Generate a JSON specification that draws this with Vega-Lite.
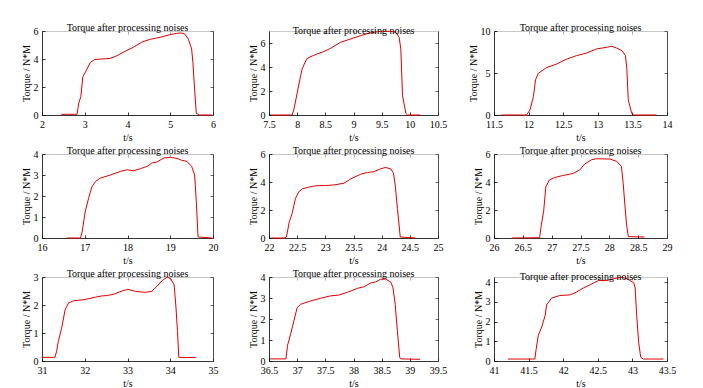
{
"$schema": "https://vega.github.io/schema/vega-lite/v6.json",
"padding": {"left": 21, "top": 23, "right": 5, "bottom": 5},
"background": "white",
"data": {"values": [
{"p":1,"t":2.45,"v":0.05},{"p":1,"t":2.82,"v":0.05},{"p":1,"t":2.86,"v":0.85},{"p":1,"t":2.91,"v":1.33},{"p":1,"t":2.955,"v":2.73},{"p":1,"t":3.03,"v":3.15},{"p":1,"t":3.13,"v":3.75},{"p":1,"t":3.24,"v":3.97},{"p":1,"t":3.36,"v":3.99},{"p":1,"t":3.59,"v":4.04},{"p":1,"t":3.75,"v":4.23},{"p":1,"t":3.94,"v":4.55},{"p":1,"t":4.14,"v":4.84},{"p":1,"t":4.33,"v":5.2},{"p":1,"t":4.52,"v":5.4},{"p":1,"t":4.68,"v":5.5},{"p":1,"t":4.83,"v":5.6},{"p":1,"t":4.99,"v":5.74},{"p":1,"t":5.15,"v":5.83},{"p":1,"t":5.26,"v":5.86},{"p":1,"t":5.34,"v":5.78},{"p":1,"t":5.42,"v":5.44},{"p":1,"t":5.5,"v":4.72},{"p":1,"t":5.53,"v":3.75},{"p":1,"t":5.57,"v":1.81},{"p":1,"t":5.61,"v":0.12},{"p":1,"t":5.69,"v":0.0},{"p":1,"t":5.98,"v":0.0},
{"p":2,"t":7.52,"v":0},{"p":2,"t":7.91,"v":0},{"p":2,"t":7.94,"v":0.42},{"p":2,"t":8.0,"v":1.83},{"p":2,"t":8.06,"v":3.24},{"p":2,"t":8.09,"v":3.86},{"p":2,"t":8.17,"v":4.7},{"p":2,"t":8.3,"v":4.99},{"p":2,"t":8.48,"v":5.3},{"p":2,"t":8.59,"v":5.55},{"p":2,"t":8.77,"v":6.06},{"p":2,"t":8.95,"v":6.34},{"p":2,"t":9.13,"v":6.62},{"p":2,"t":9.3,"v":6.85},{"p":2,"t":9.48,"v":6.97},{"p":2,"t":9.66,"v":6.97},{"p":2,"t":9.75,"v":6.9},{"p":2,"t":9.81,"v":6.48},{"p":2,"t":9.84,"v":5.49},{"p":2,"t":9.87,"v":1.63},{"p":2,"t":9.93,"v":0.14},{"p":2,"t":9.96,"v":0},{"p":2,"t":10.19,"v":0},
{"p":3,"t":11.6,"v":0},{"p":3,"t":11.97,"v":0},{"p":3,"t":12.02,"v":0.6},{"p":3,"t":12.07,"v":2.2},{"p":3,"t":12.1,"v":4.2},{"p":3,"t":12.14,"v":4.96},{"p":3,"t":12.26,"v":5.65},{"p":3,"t":12.4,"v":6.05},{"p":3,"t":12.55,"v":6.65},{"p":3,"t":12.69,"v":7.06},{"p":3,"t":12.84,"v":7.38},{"p":3,"t":12.98,"v":7.86},{"p":3,"t":13.13,"v":8.06},{"p":3,"t":13.2,"v":8.19},{"p":3,"t":13.27,"v":7.98},{"p":3,"t":13.35,"v":7.66},{"p":3,"t":13.4,"v":7.06},{"p":3,"t":13.42,"v":5.44},{"p":3,"t":13.44,"v":1.81},{"p":3,"t":13.49,"v":0.2},{"p":3,"t":13.52,"v":0},{"p":3,"t":13.85,"v":0},
{"p":4,"t":16.58,"v":0},{"p":4,"t":16.9,"v":0},{"p":4,"t":16.94,"v":0.29},{"p":4,"t":17.01,"v":1.25},{"p":4,"t":17.09,"v":1.89},{"p":4,"t":17.17,"v":2.45},{"p":4,"t":17.25,"v":2.69},{"p":4,"t":17.36,"v":2.85},{"p":4,"t":17.6,"v":3.0},{"p":4,"t":17.83,"v":3.17},{"p":4,"t":17.99,"v":3.25},{"p":4,"t":18.14,"v":3.2},{"p":4,"t":18.3,"v":3.3},{"p":4,"t":18.46,"v":3.41},{"p":4,"t":18.57,"v":3.57},{"p":4,"t":18.69,"v":3.62},{"p":4,"t":18.85,"v":3.81},{"p":4,"t":19.0,"v":3.84},{"p":4,"t":19.16,"v":3.79},{"p":4,"t":19.27,"v":3.7},{"p":4,"t":19.39,"v":3.65},{"p":4,"t":19.5,"v":3.41},{"p":4,"t":19.57,"v":3.0},{"p":4,"t":19.61,"v":1.73},{"p":4,"t":19.65,"v":0.05},{"p":4,"t":19.98,"v":0},
{"p":5,"t":22.03,"v":0},{"p":5,"t":22.27,"v":0},{"p":5,"t":22.31,"v":0.07},{"p":5,"t":22.36,"v":1.15},{"p":5,"t":22.41,"v":1.75},{"p":5,"t":22.47,"v":2.83},{"p":5,"t":22.53,"v":3.31},{"p":5,"t":22.59,"v":3.5},{"p":5,"t":22.74,"v":3.67},{"p":5,"t":22.86,"v":3.74},{"p":5,"t":22.98,"v":3.74},{"p":5,"t":23.15,"v":3.79},{"p":5,"t":23.33,"v":3.91},{"p":5,"t":23.45,"v":4.22},{"p":5,"t":23.63,"v":4.56},{"p":5,"t":23.75,"v":4.68},{"p":5,"t":23.86,"v":4.73},{"p":5,"t":23.98,"v":4.94},{"p":5,"t":24.07,"v":5.04},{"p":5,"t":24.16,"v":4.94},{"p":5,"t":24.21,"v":4.63},{"p":5,"t":24.24,"v":3.79},{"p":5,"t":24.28,"v":2.11},{"p":5,"t":24.33,"v":0.07},{"p":5,"t":24.6,"v":0},
{"p":6,"t":26.31,"v":0},{"p":6,"t":26.79,"v":0.02},{"p":6,"t":26.82,"v":0.91},{"p":6,"t":26.86,"v":1.87},{"p":6,"t":26.9,"v":3.67},{"p":6,"t":26.96,"v":4.15},{"p":6,"t":27.05,"v":4.32},{"p":6,"t":27.19,"v":4.46},{"p":6,"t":27.37,"v":4.61},{"p":6,"t":27.49,"v":4.87},{"p":6,"t":27.57,"v":5.28},{"p":6,"t":27.69,"v":5.59},{"p":6,"t":27.78,"v":5.66},{"p":6,"t":28.01,"v":5.64},{"p":6,"t":28.13,"v":5.47},{"p":6,"t":28.21,"v":5.11},{"p":6,"t":28.24,"v":3.91},{"p":6,"t":28.27,"v":2.35},{"p":6,"t":28.3,"v":0.91},{"p":6,"t":28.33,"v":0.1},{"p":6,"t":28.61,"v":0.07},
{"p":7,"t":31.0,"v":0.13},{"p":7,"t":31.3,"v":0.13},{"p":7,"t":31.34,"v":0.33},{"p":7,"t":31.38,"v":0.69},{"p":7,"t":31.46,"v":1.17},{"p":7,"t":31.54,"v":1.83},{"p":7,"t":31.62,"v":2.07},{"p":7,"t":31.74,"v":2.15},{"p":7,"t":31.98,"v":2.19},{"p":7,"t":32.22,"v":2.27},{"p":7,"t":32.38,"v":2.32},{"p":7,"t":32.53,"v":2.34},{"p":7,"t":32.69,"v":2.39},{"p":7,"t":32.85,"v":2.49},{"p":7,"t":33.01,"v":2.56},{"p":7,"t":33.17,"v":2.49},{"p":7,"t":33.41,"v":2.45},{"p":7,"t":33.57,"v":2.49},{"p":7,"t":33.69,"v":2.67},{"p":7,"t":33.81,"v":2.87},{"p":7,"t":33.93,"v":3.0},{"p":7,"t":34.01,"v":2.94},{"p":7,"t":34.09,"v":2.72},{"p":7,"t":34.13,"v":2.0},{"p":7,"t":34.17,"v":1.05},{"p":7,"t":34.2,"v":0.13},{"p":7,"t":34.6,"v":0.12},
{"p":8,"t":36.52,"v":0.1},{"p":8,"t":36.8,"v":0.1},{"p":8,"t":36.83,"v":0.75},{"p":8,"t":36.88,"v":1.24},{"p":8,"t":36.94,"v":1.89},{"p":8,"t":37.0,"v":2.54},{"p":8,"t":37.06,"v":2.7},{"p":8,"t":37.24,"v":2.86},{"p":8,"t":37.42,"v":2.99},{"p":8,"t":37.59,"v":3.1},{"p":8,"t":37.74,"v":3.14},{"p":8,"t":37.89,"v":3.27},{"p":8,"t":38.07,"v":3.46},{"p":8,"t":38.19,"v":3.54},{"p":8,"t":38.3,"v":3.71},{"p":8,"t":38.39,"v":3.76},{"p":8,"t":38.48,"v":3.89},{"p":8,"t":38.57,"v":3.9},{"p":8,"t":38.66,"v":3.76},{"p":8,"t":38.7,"v":3.51},{"p":8,"t":38.74,"v":2.7},{"p":8,"t":38.78,"v":1.4},{"p":8,"t":38.82,"v":0.18},{"p":8,"t":38.84,"v":0.1},{"p":8,"t":39.18,"v":0.08},
{"p":9,"t":41.2,"v":0.1},{"p":9,"t":41.59,"v":0.1},{"p":9,"t":41.61,"v":0.62},{"p":9,"t":41.64,"v":1.3},{"p":9,"t":41.69,"v":1.73},{"p":9,"t":41.74,"v":2.33},{"p":9,"t":41.76,"v":2.85},{"p":9,"t":41.83,"v":3.19},{"p":9,"t":41.95,"v":3.33},{"p":9,"t":42.1,"v":3.36},{"p":9,"t":42.19,"v":3.5},{"p":9,"t":42.29,"v":3.71},{"p":9,"t":42.39,"v":3.88},{"p":9,"t":42.51,"v":4.09},{"p":9,"t":42.63,"v":4.09},{"p":9,"t":42.73,"v":4.19},{"p":9,"t":42.85,"v":4.26},{"p":9,"t":42.94,"v":4.15},{"p":9,"t":43.02,"v":3.97},{"p":9,"t":43.04,"v":3.71},{"p":9,"t":43.06,"v":2.42},{"p":9,"t":43.09,"v":0.96},{"p":9,"t":43.12,"v":0.19},{"p":9,"t":43.16,"v":0.1},{"p":9,"t":43.45,"v":0.1}
]},
"columns": 3,
"spacing": {"row": 39, "column": 56},
"bounds": "flush",
"concat": [
{"title": "Torque after processing noises", "width": 171, "height": 84, "transform": [{"filter": "datum.p == 1"}], "resolve": {"axis": {"x": "independent", "y": "independent"}},
 "layer": [
 {"mark": "line", "encoding": {"x": {"field": "t", "type": "quantitative", "scale": {"domain": [2, 6], "nice": false}, "axis": {"values": [2,3,4,5,6], "title": "t/s"}},
  "y": {"field": "v", "type": "quantitative", "scale": {"domain": [0, 6], "nice": false}, "axis": {"values": [0,2,4,6], "title": "Torque / N*M"}}}},
 {"mark": {"type": "line", "opacity": 0}, "encoding": {"x": {"field": "t", "type": "quantitative", "axis": {"orient": "top", "values": [2,3,4,5,6], "title": null}},
  "y": {"field": "v", "type": "quantitative", "axis": {"orient": "right", "values": [0,2,4,6], "title": null}}}}]},
{"title": "Torque after processing noises", "width": 169, "height": 84, "transform": [{"filter": "datum.p == 2"}], "resolve": {"axis": {"x": "independent", "y": "independent"}},
 "layer": [
 {"mark": "line", "encoding": {"x": {"field": "t", "type": "quantitative", "scale": {"domain": [7.5, 10.5], "nice": false}, "axis": {"values": [7.5,8,8.5,9,9.5,10,10.5], "title": "t/s"}},
  "y": {"field": "v", "type": "quantitative", "scale": {"domain": [0, 7], "nice": false}, "axis": {"values": [0,2,4,6], "title": "Torque / N*M"}}}},
 {"mark": {"type": "line", "opacity": 0}, "encoding": {"x": {"field": "t", "type": "quantitative", "axis": {"orient": "top", "values": [7.5,8,8.5,9,9.5,10,10.5], "title": null}},
  "y": {"field": "v", "type": "quantitative", "axis": {"orient": "right", "values": [0,2,4,6], "title": null}}}}]},
{"title": "Torque after processing noises", "width": 173, "height": 84, "transform": [{"filter": "datum.p == 3"}], "resolve": {"axis": {"x": "independent", "y": "independent"}},
 "layer": [
 {"mark": "line", "encoding": {"x": {"field": "t", "type": "quantitative", "scale": {"domain": [11.5, 14], "nice": false}, "axis": {"values": [11.5,12,12.5,13,13.5,14], "title": "t/s"}},
  "y": {"field": "v", "type": "quantitative", "scale": {"domain": [0, 10], "nice": false}, "axis": {"values": [0,5,10], "title": "Torque / N*M"}}}},
 {"mark": {"type": "line", "opacity": 0}, "encoding": {"x": {"field": "t", "type": "quantitative", "axis": {"orient": "top", "values": [11.5,12,12.5,13,13.5,14], "title": null}},
  "y": {"field": "v", "type": "quantitative", "axis": {"orient": "right", "values": [0,5,10], "title": null}}}}]},
{"title": "Torque after processing noises", "width": 171, "height": 84, "transform": [{"filter": "datum.p == 4"}], "resolve": {"axis": {"x": "independent", "y": "independent"}},
 "layer": [
 {"mark": "line", "encoding": {"x": {"field": "t", "type": "quantitative", "scale": {"domain": [16, 20], "nice": false}, "axis": {"values": [16,17,18,19,20], "title": "t/s"}},
  "y": {"field": "v", "type": "quantitative", "scale": {"domain": [0, 4], "nice": false}, "axis": {"values": [0,1,2,3,4], "title": "Torque / N*M"}}}},
 {"mark": {"type": "line", "opacity": 0}, "encoding": {"x": {"field": "t", "type": "quantitative", "axis": {"orient": "top", "values": [16,17,18,19,20], "title": null}},
  "y": {"field": "v", "type": "quantitative", "axis": {"orient": "right", "values": [0,1,2,3,4], "title": null}}}}]},
{"title": "Torque after processing noises", "width": 169, "height": 84, "transform": [{"filter": "datum.p == 5"}], "resolve": {"axis": {"x": "independent", "y": "independent"}},
 "layer": [
 {"mark": "line", "encoding": {"x": {"field": "t", "type": "quantitative", "scale": {"domain": [22, 25], "nice": false}, "axis": {"values": [22,22.5,23,23.5,24,24.5,25], "title": "t/s"}},
  "y": {"field": "v", "type": "quantitative", "scale": {"domain": [0, 6], "nice": false}, "axis": {"values": [0,2,4,6], "title": "Torque / N*M"}}}},
 {"mark": {"type": "line", "opacity": 0}, "encoding": {"x": {"field": "t", "type": "quantitative", "axis": {"orient": "top", "values": [22,22.5,23,23.5,24,24.5,25], "title": null}},
  "y": {"field": "v", "type": "quantitative", "axis": {"orient": "right", "values": [0,2,4,6], "title": null}}}}]},
{"title": "Torque after processing noises", "width": 173, "height": 84, "transform": [{"filter": "datum.p == 6"}], "resolve": {"axis": {"x": "independent", "y": "independent"}},
 "layer": [
 {"mark": "line", "encoding": {"x": {"field": "t", "type": "quantitative", "scale": {"domain": [26, 29], "nice": false}, "axis": {"values": [26,26.5,27,27.5,28,28.5,29], "title": "t/s"}},
  "y": {"field": "v", "type": "quantitative", "scale": {"domain": [0, 6], "nice": false}, "axis": {"values": [0,2,4,6], "title": "Torque / N*M"}}}},
 {"mark": {"type": "line", "opacity": 0}, "encoding": {"x": {"field": "t", "type": "quantitative", "axis": {"orient": "top", "values": [26,26.5,27,27.5,28,28.5,29], "title": null}},
  "y": {"field": "v", "type": "quantitative", "axis": {"orient": "right", "values": [0,2,4,6], "title": null}}}}]},
{"title": "Torque after processing noises", "width": 171, "height": 84, "transform": [{"filter": "datum.p == 7"}], "resolve": {"axis": {"x": "independent", "y": "independent"}},
 "layer": [
 {"mark": "line", "encoding": {"x": {"field": "t", "type": "quantitative", "scale": {"domain": [31, 35], "nice": false}, "axis": {"values": [31,32,33,34,35], "title": "t/s"}},
  "y": {"field": "v", "type": "quantitative", "scale": {"domain": [0, 3], "nice": false}, "axis": {"values": [0,1,2,3], "title": "Torque / N*M"}}}},
 {"mark": {"type": "line", "opacity": 0}, "encoding": {"x": {"field": "t", "type": "quantitative", "axis": {"orient": "top", "values": [31,32,33,34,35], "title": null}},
  "y": {"field": "v", "type": "quantitative", "axis": {"orient": "right", "values": [0,1,2,3], "title": null}}}}]},
{"title": "Torque after processing noises", "width": 169, "height": 84, "transform": [{"filter": "datum.p == 8"}], "resolve": {"axis": {"x": "independent", "y": "independent"}},
 "layer": [
 {"mark": "line", "encoding": {"x": {"field": "t", "type": "quantitative", "scale": {"domain": [36.5, 39.5], "nice": false}, "axis": {"values": [36.5,37,37.5,38,38.5,39,39.5], "title": "t/s"}},
  "y": {"field": "v", "type": "quantitative", "scale": {"domain": [0, 4], "nice": false}, "axis": {"values": [0,1,2,3,4], "title": "Torque / N*M"}}}},
 {"mark": {"type": "line", "opacity": 0}, "encoding": {"x": {"field": "t", "type": "quantitative", "axis": {"orient": "top", "values": [36.5,37,37.5,38,38.5,39,39.5], "title": null}},
  "y": {"field": "v", "type": "quantitative", "axis": {"orient": "right", "values": [0,1,2,3,4], "title": null}}}}]},
{"title": "Torque after processing noises", "width": 173, "height": 84, "transform": [{"filter": "datum.p == 9"}], "resolve": {"axis": {"x": "independent", "y": "independent"}},
 "layer": [
 {"mark": "line", "encoding": {"x": {"field": "t", "type": "quantitative", "scale": {"domain": [41, 43.5], "nice": false}, "axis": {"values": [41,41.5,42,42.5,43,43.5], "title": "t/s"}},
  "y": {"field": "v", "type": "quantitative", "scale": {"domain": [0, 4.27], "nice": false}, "axis": {"values": [0,1,2,3,4], "title": "Torque / N*M"}}}},
 {"mark": {"type": "line", "opacity": 0}, "encoding": {"x": {"field": "t", "type": "quantitative", "axis": {"orient": "top", "values": [41,41.5,42,42.5,43,43.5], "title": null}},
  "y": {"field": "v", "type": "quantitative", "axis": {"orient": "right", "values": [0,1,2,3,4], "title": null}}}}]}
],
"config": {
 "font": "Liberation Serif",
 "view": {"stroke": null},
 "axis": {"labelFont": "Liberation Serif", "labelFontSize": 10, "labelColor": "#000", "titleFont": "Liberation Serif", "titleFontSize": 10, "titleFontWeight": "normal", "titleColor": "#000", "domainColor": "#000", "domainWidth": 0.8, "tickColor": "#000", "tickWidth": 0.8, "tickSize": -3, "grid": false, "labelPadding": 7, "labelFlush": false, "labelOverlap": false, "labelExpr": "'' + datum.value"},
 "axisX": {"titlePadding": 3},
 "axisY": {"titlePadding": 2},
 "axisTop": {"labels": false, "domainColor": "#bbb", "tickColor": "#999"},
 "axisRight": {"labels": false, "domainColor": "#222", "tickColor": "#444"},
 "title": {"font": "Liberation Serif", "fontSize": 10, "fontWeight": "normal", "color": "#000", "offset": -7},
 "line": {"color": "#e00000", "strokeWidth": 1}
}
}
